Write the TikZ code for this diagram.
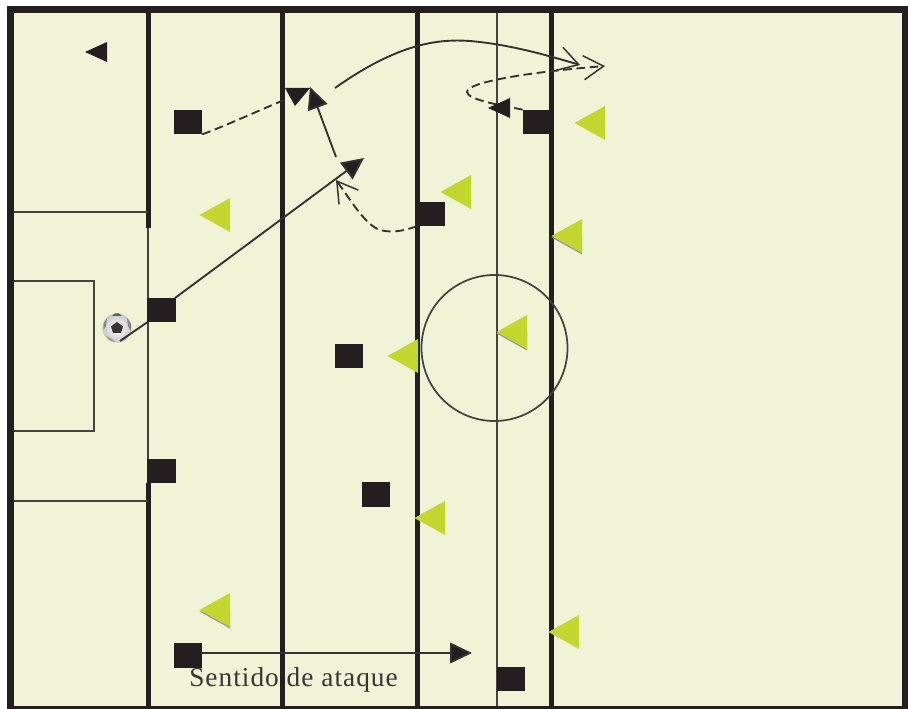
\documentclass[tikz,border=0pt]{standalone}
\usepackage{fontspec}
\setmainfont{Liberation Serif}
\newfontfamily\labf[LetterSpace=3.7]{Liberation Serif}
\usetikzlibrary{arrows.meta}
\definecolor{field}{HTML}{F0F3D6}
\definecolor{ink}{HTML}{231F20}
\definecolor{lime}{HTML}{C3D72E}
\tikzset{
  x=0.75pt,y=-0.75pt,
  sq/.style={fill=ink,minimum width=21.5pt,minimum height=18.5pt,inner sep=0,outer sep=0,draw=none},
  heavy/.style={draw=ink,line width=3.75pt},
  light/.style={draw=ink!85,line width=1.4pt},
  conn/.style={draw=ink!92,line width=1.4pt},
  dsh/.style={conn,dash pattern=on 6.5pt off 3.5pt},
  solidhead/.style={-{Triangle[length=16.5pt,width=15.5pt,fill=ink]}},
  openhead/.style={-{Straight Barb[length=15pt,width=18pt,line width=1.1pt]}},
}
\newcommand{\ltri}[2]{\fill[lime] (#1-15.5,#2) -- (#1+15,#2-17) -- (#1+15,#2+17) -- cycle;}
\newcommand{\ltrs}[2]{\fill[black!40] (#1-15.5,#2+1.5) -- (#1+15,#2+18.5) -- (#1+15,#2) -- cycle;\ltri{#1}{#2}}
\newcommand{\btri}[2]{\fill[ink] (#1-11,#2) -- (#1+11,#2-10) -- (#1+11,#2+10) -- cycle;}
\begin{document}
\begin{tikzpicture}
\useasboundingbox (0,0) rectangle (911,709);
\fill[white] (0,0) rectangle (911,709);
% frame
\fill[ink] (7,6) rectangle (908,709);
\fill[field] (14,13) rectangle (902,706);
% verticals
\draw[heavy] (148,13) -- (148,228);
\draw[light] (148,228) -- (148,483);
\draw[heavy] (148,483) -- (148,706);
\draw[heavy] (282,13) -- (282,706);
\draw[heavy] (417,13) -- (417,706);
\draw[light] (497,13) -- (497,706);
\draw[heavy] (551,13) -- (551,706);
% penalty areas
\draw[light] (14,212) -- (148,212);
\draw[light] (14,501) -- (148,501);
\draw[light] (14,281) -- (94,281) -- (94,431) -- (14,431);
\draw[draw=ink!85,line width=1.3pt] (494.5,348) circle (73);
% lime cones
\ltri{215}{215}
\ltri{456}{192}
\ltri{590}{123}
\ltrs{567}{236}
\ltri{403}{356}
\ltrs{512}{332}
\ltri{430}{518}
\ltrs{215}{610}
\ltri{564}{632}
% black small triangle
\btri{96}{52}
% squares
\node[sq] (a) at (188,122) {};
\node[sq] (b) at (537,122) {};
\node[sq] (c) at (431,214) {};
\node[sq] (d) at (161.5,310) {};
\node[sq] (e) at (349,356) {};
\node[sq] (f) at (161.5,471) {};
\node[sq] (g) at (376,494.5) {};
\node[sq] (h) at (188,655.5) {};
\node[sq] (i) at (511,679) {};
% free ends
\coordinate (p1) at (364,158);
\coordinate (p1s) at (175,298);
\coordinate (p2) at (336,157);
\coordinate (p3) at (310,87);
\coordinate (p4) at (284,100);
\coordinate (p5) at (335,88);
\coordinate (p6) at (580,65);
\coordinate (p7) at (605,66);
\coordinate (p8) at (336,180);
\coordinate (p9) at (472,653);
% ball
\node[circle,minimum size=22pt,inner sep=0,inner color=white,outer color=black!22] (ball) at (117,328) {};
\fill[ink!90] (117,322) -- (123,326.5) -- (121,333) -- (113,333) -- (111,326.5) -- cycle;
\fill[ink!70] (112,316) -- (122,316) -- (119,313.5) -- (115,313.5) -- cycle;
\fill[ink!55] (127,318) -- (131,324) -- (131,331) -- (128,326) -- cycle;
\fill[ink!55] (107,318) -- (103.5,324) -- (103.5,330) -- (106,326) -- cycle;
\fill[ink!45] (106,336) -- (112,339) -- (115,342) -- (109,340) -- cycle;
\fill[ink!45] (128,335) -- (124,339) -- (121,341) -- (126,339) -- cycle;
\coordinate (b0) at (120,341);
% connectors
\draw[conn] (b0) -- (d.south west);
\draw[conn,solidhead] (p1s) -- (p1);
\draw[conn,solidhead] (p2) -- (p3);
\draw[conn,openhead] (p5) .. controls (400,42) and (440,39) .. (470,41) .. controls (505,44) and (540,53) .. (p6);
\draw[dsh] (a.south east) .. controls (225,126) and (260,110) .. (p4);
\fill[ink] (285,88) -- (310,88) -- (295,106) -- cycle;
\draw[dsh,openhead] (b.north west) .. controls (505,106) and (467,100) .. (467,92) .. controls (467,82) and (530,72) .. (p7);
\draw[dsh,openhead] (c.south west) .. controls (408,229) and (395,234) .. (380,230) .. controls (365,225) and (350,199) .. (p8);
\draw[conn,solidhead] (h.east |- p9) -- (p9);
\btri{499}{108}
\node[inner sep=0,text=ink!90,font=\labf\fontsize{20.5pt}{21pt}\selectfont,anchor=base] (lab) at (293.5,686) {Sentido de ataque};
\end{tikzpicture}
\end{document}
